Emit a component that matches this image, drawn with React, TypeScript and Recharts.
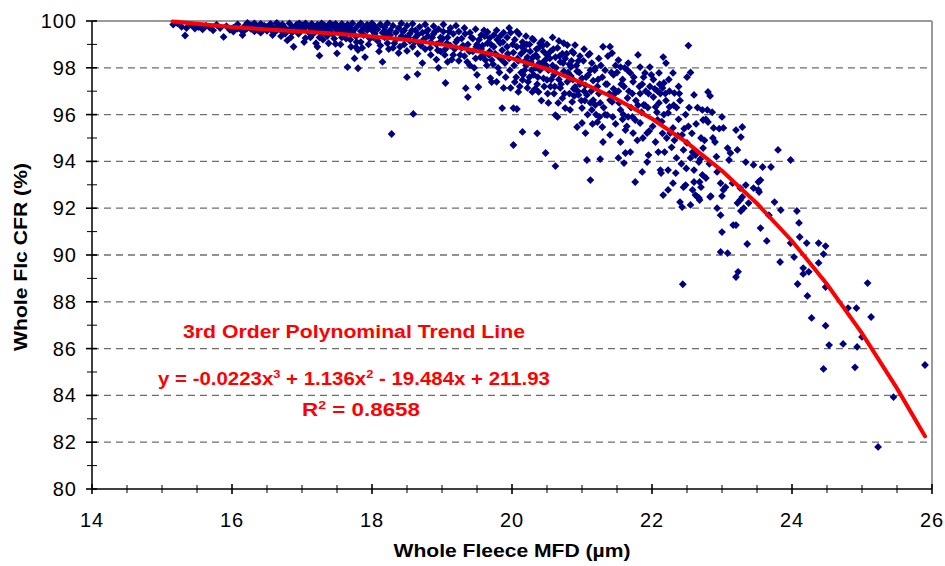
import React from "react";
import {
  ScatterChart,
  Scatter,
  XAxis,
  YAxis,
  CartesianGrid,
  ReferenceLine,
} from "recharts";

// [MFD (µm), CFR (%)], grouped by fibre diameter
const band15: [number, number][] = [
  [15.16, 99.85], [15.22, 99.9], [15.28, 99.75], [15.33, 99.38], [15.35, 99.7],
  [15.42, 99.82], [15.47, 99.68], [15.52, 99.74], [15.58, 99.64], [15.63, 99.8],
  [15.68, 99.72], [15.73, 99.6], [15.78, 99.84], [15.83, 99.7], [15.88, 99.32],
  [15.92, 99.78], [15.97, 99.62],
];

const band16: [number, number][] = [
  [16.02, 99.72], [16.02, 99.55], [16.08, 99.86], [16.08, 99.68], [16.13, 99.62],
  [16.15, 99.4], [16.18, 99.78], [16.18, 99.6], [16.22, 99.92], [16.22, 99.7],
  [16.27, 99.66], [16.27, 99.82], [16.32, 99.56], [16.32, 99.9], [16.36, 99.74],
  [16.36, 99.62], [16.41, 99.88], [16.41, 99.5], [16.46, 99.66], [16.46, 99.8],
  [16.5, 99.76], [16.5, 99.58], [16.55, 99.88], [16.55, 99.64], [16.6, 99.72],
  [16.6, 99.5], [16.64, 99.92], [16.64, 99.6], [16.68, 99.78], [16.68, 99.66],
  [16.72, 99.55], [16.72, 99.86], [16.76, 99.7], [16.76, 99.46], [16.79, 99.17],
  [16.82, 99.9], [16.82, 99.62], [16.86, 99.74], [16.86, 99.52], [16.88, 98.9],
  [16.92, 99.84], [16.92, 99.6], [16.96, 99.7], [16.96, 99.9],
  [16.58, 99.4], [16.7, 99.35], [16.84, 99.3], [16.95, 99.45],
];

const band17: [number, number][] = [
  [17.0, 99.62], [17.0, 99.82], [17.05, 99.27], [17.05, 99.72], [17.05, 99.9],
  [17.1, 99.5], [17.1, 99.78], [17.14, 99.88], [17.14, 99.64], [17.14, 99.4],
  [17.18, 99.7], [17.18, 99.52], [17.22, 98.9], [17.22, 99.84], [17.22, 99.6],
  [17.25, 98.52], [17.25, 99.3], [17.28, 99.9], [17.28, 99.72], [17.28, 99.46],
  [17.32, 99.62], [17.32, 99.82], [17.36, 99.36], [17.36, 99.76], [17.4, 99.9],
  [17.4, 99.56], [17.4, 99.7], [17.44, 99.82], [17.44, 99.44], [17.48, 99.02],
  [17.48, 99.66], [17.48, 99.88], [17.5, 98.62], [17.53, 99.76], [17.53, 99.5],
  [17.57, 99.88], [17.57, 99.62], [17.57, 99.3], [17.61, 99.72], [17.61, 99.45],
  [17.65, 98.03], [17.65, 99.84], [17.65, 99.58], [17.69, 99.2], [17.69, 99.7],
  [17.72, 99.9], [17.72, 99.5], [17.75, 98.4], [17.75, 99.64], [17.77, 98.88],
  [17.77, 99.34], [17.8, 97.98], [17.8, 98.76], [17.8, 99.8], [17.84, 99.56],
  [17.84, 99.9], [17.84, 99.1], [17.88, 99.7], [17.88, 99.4], [17.9, 98.46],
  [17.93, 99.84], [17.93, 99.6], [17.97, 99.25], [17.97, 99.74],
  [17.03, 99.1], [17.12, 99.3], [17.2, 99.05], [17.3, 99.2], [17.38, 99.05],
  [17.46, 99.25], [17.55, 99.0], [17.63, 99.25], [17.7, 98.9], [17.78, 99.1],
  [17.86, 98.85], [17.95, 99.0],
];

const band18: [number, number][] = [
  [18.0, 99.9], [18.0, 99.6], [18.04, 99.45], [18.04, 99.78], [18.08, 99.15],
  [18.08, 99.65], [18.12, 99.86], [18.12, 98.95], [18.15, 98.25], [18.15, 99.5],
  [18.18, 99.72], [18.18, 99.3], [18.22, 99.9], [18.22, 99.05], [18.26, 99.6],
  [18.26, 99.4], [18.28, 95.17], [18.3, 98.85], [18.3, 99.8], [18.34, 99.5],
  [18.34, 99.2], [18.38, 98.63], [18.38, 99.7], [18.42, 99.9], [18.42, 99.35],
  [18.46, 99.0], [18.46, 99.6], [18.5, 97.6], [18.5, 98.72], [18.5, 99.8],
  [18.54, 99.45], [18.54, 99.15], [18.58, 99.88], [18.58, 98.9], [18.59, 96.03],
  [18.62, 99.6], [18.62, 99.3], [18.65, 97.73], [18.65, 98.6], [18.68, 99.75],
  [18.68, 99.05], [18.72, 98.2], [18.72, 99.5], [18.76, 99.85], [18.76, 98.8],
  [18.8, 99.35], [18.8, 99.62], [18.84, 98.55], [18.84, 99.1], [18.88, 99.78],
  [18.88, 99.45], [18.92, 98.35], [18.92, 99.0], [18.95, 98.0], [18.95, 99.65],
  [18.98, 99.3], [18.98, 98.7],
  [18.02, 99.3], [18.1, 98.7], [18.2, 99.5], [18.24, 98.8], [18.32, 99.05],
  [18.4, 98.9], [18.44, 99.55], [18.48, 99.3], [18.52, 99.3], [18.57, 99.6],
  [18.61, 99.1], [18.66, 99.42], [18.7, 98.95], [18.74, 99.22], [18.78, 99.55],
  [18.83, 98.85], [18.86, 99.3], [18.9, 99.55], [18.94, 98.75], [18.97, 99.1],
];

const band19: [number, number][] = [
  [19.02, 99.55], [19.02, 99.85], [19.05, 97.35], [19.05, 98.8], [19.08, 98.25],
  [19.08, 99.3], [19.12, 99.7], [19.12, 98.95], [19.16, 98.55], [19.16, 99.45],
  [19.2, 99.1], [19.2, 99.8], [19.24, 98.3], [19.24, 99.55], [19.28, 98.85],
  [19.28, 99.25], [19.32, 99.7], [19.32, 98.5], [19.34, 97.13], [19.37, 96.75],
  [19.37, 99.0], [19.4, 99.5], [19.4, 98.1], [19.44, 98.7], [19.44, 99.25],
  [19.48, 98.4], [19.48, 99.65], [19.5, 97.7], [19.5, 99.0], [19.52, 97.18],
  [19.56, 99.4], [19.56, 98.8], [19.6, 99.6], [19.6, 98.55], [19.62, 98.33],
  [19.65, 99.53], [19.65, 99.05], [19.68, 99.27], [19.68, 98.7], [19.69, 97.56],
  [19.71, 97.39], [19.71, 98.33], [19.74, 99.4], [19.74, 98.9], [19.78, 99.6],
  [19.78, 97.4], [19.8, 98.0], [19.8, 98.5], [19.83, 99.06], [19.83, 99.35],
  [19.86, 96.28], [19.86, 98.75], [19.88, 97.14], [19.88, 99.5], [19.9, 98.2],
  [19.93, 99.3], [19.93, 98.9], [19.96, 99.7], [19.96, 98.4], [19.98, 97.14],
  [19.98, 99.5],
  [19.01, 99.25], [19.04, 98.55], [19.07, 99.05], [19.1, 99.55], [19.14, 98.35],
  [19.18, 98.8], [19.22, 99.2], [19.26, 98.55], [19.3, 98.95], [19.33, 99.45],
  [19.36, 98.25], [19.39, 98.7], [19.42, 99.3], [19.46, 98.0], [19.49, 98.9],
  [19.53, 99.2], [19.55, 98.45], [19.58, 98.95], [19.61, 99.35], [19.64, 98.1],
  [19.67, 98.55], [19.7, 99.0], [19.73, 98.15], [19.76, 98.6], [19.79, 99.2],
  [19.82, 97.8], [19.85, 98.35], [19.87, 99.1], [19.91, 97.6], [19.94, 98.6],
  [19.97, 97.9],
];

const band20: [number, number][] = [
  [20.02, 96.28], [20.02, 98.65], [20.02, 94.7], [20.04, 97.39], [20.04, 99.2],
  [20.07, 96.24], [20.07, 98.9], [20.07, 99.55], [20.09, 96.97], [20.09, 98.3],
  [20.1, 99.44], [20.13, 97.8], [20.13, 98.6], [20.15, 97.48], [20.15, 95.26],
  [20.15, 99.1], [20.18, 98.75], [20.18, 97.9], [20.2, 99.35], [20.2, 98.1],
  [20.22, 97.14], [20.22, 98.45], [20.25, 99.0], [20.25, 97.6], [20.27, 98.25],
  [20.29, 96.97], [20.29, 99.25], [20.31, 99.19], [20.31, 97.7], [20.34, 98.0],
  [20.34, 98.55], [20.36, 98.46], [20.36, 95.2], [20.36, 97.3], [20.38, 96.97],
  [20.38, 98.85], [20.4, 97.9], [20.4, 99.05], [20.43, 99.15], [20.43, 98.2],
  [20.45, 97.55], [20.45, 98.7], [20.48, 94.36], [20.48, 98.35], [20.5, 97.48],
  [20.5, 98.55], [20.5, 99.0], [20.52, 96.5], [20.52, 97.9], [20.55, 98.7],
  [20.55, 97.2], [20.58, 99.3], [20.58, 98.1], [20.6, 97.7], [20.6, 96.9],
  [20.62, 93.8], [20.62, 95.98], [20.62, 98.45], [20.65, 95.9], [20.65, 98.85],
  [20.67, 99.15], [20.67, 97.5], [20.69, 97.14], [20.69, 98.25], [20.72, 98.6],
  [20.72, 96.7], [20.74, 97.85], [20.74, 99.05], [20.76, 96.28], [20.76, 98.4],
  [20.79, 98.97], [20.79, 97.4], [20.82, 98.15], [20.82, 96.9], [20.84, 98.03],
  [20.84, 97.65], [20.86, 96.54], [20.86, 98.7], [20.88, 98.63], [20.88, 97.1],
  [20.9, 98.97], [20.9, 97.18], [20.93, 95.47], [20.93, 97.85], [20.95, 96.84],
  [20.95, 98.3], [20.97, 98.5], [20.97, 97.3],
  [20.01, 99.0], [20.03, 98.1], [20.06, 97.6], [20.08, 98.4], [20.11, 97.2],
  [20.14, 98.9], [20.16, 97.7], [20.19, 98.3], [20.21, 99.0], [20.23, 97.4],
  [20.26, 98.7], [20.28, 97.9], [20.3, 98.45], [20.33, 97.1], [20.35, 98.8],
  [20.37, 97.6], [20.39, 98.2], [20.42, 96.6], [20.44, 98.95], [20.46, 97.2],
  [20.49, 98.1], [20.51, 96.9], [20.54, 98.4], [20.56, 97.5], [20.59, 98.8],
  [20.61, 97.2], [20.63, 98.0], [20.66, 96.5], [20.68, 98.5], [20.7, 97.3],
  [20.73, 98.2], [20.75, 96.9], [20.78, 98.6], [20.8, 97.8], [20.83, 96.2],
  [20.85, 98.3], [20.87, 97.5], [20.89, 96.8], [20.92, 98.1], [20.94, 97.0],
  [20.96, 97.8], [20.99, 96.6],
];

const band21: [number, number][] = [
  [21.0, 96.28], [21.0, 95.64], [21.0, 97.55], [21.03, 98.8], [21.03, 97.0],
  [21.05, 95.21], [21.05, 97.25], [21.07, 96.84], [21.07, 94.06], [21.09, 98.55],
  [21.09, 97.7], [21.12, 93.2], [21.12, 97.9], [21.12, 96.5], [21.14, 96.2],
  [21.14, 98.2], [21.16, 96.62], [21.16, 97.45], [21.19, 96.41], [21.19, 98.0],
  [21.22, 95.68], [21.22, 97.2], [21.24, 98.4], [21.24, 96.9], [21.26, 94.1],
  [21.26, 96.5], [21.29, 95.47], [21.29, 97.6], [21.3, 98.9], [21.3, 94.83],
  [21.33, 97.9], [21.33, 96.0], [21.36, 95.98], [21.36, 97.3], [21.4, 98.9],
  [21.4, 95.13], [21.4, 96.62], [21.43, 96.54], [21.43, 98.63], [21.45, 97.7],
  [21.45, 97.1], [21.48, 95.6], [21.48, 98.1], [21.52, 94.15], [21.52, 98.33],
  [21.52, 97.0], [21.55, 94.83], [21.55, 96.2], [21.55, 98.03], [21.58, 95.8],
  [21.58, 97.5], [21.6, 93.93], [21.6, 97.2], [21.62, 95.34], [21.62, 94.36],
  [21.65, 96.71], [21.65, 97.9], [21.66, 95.9], [21.66, 98.2], [21.69, 94.4],
  [21.69, 97.78], [21.72, 95.9], [21.72, 96.9], [21.73, 95.21], [21.73, 97.4],
  [21.76, 93.12], [21.76, 95.77], [21.8, 98.55], [21.8, 96.4], [21.83, 95.64],
  [21.83, 98.03], [21.83, 96.9], [21.86, 93.55], [21.86, 97.3], [21.88, 96.41],
  [21.88, 97.6], [21.9, 97.78], [21.9, 96.4], [21.93, 93.97], [21.93, 95.21],
  [21.95, 94.27], [21.95, 96.9], [21.97, 98.03], [21.97, 97.2],
  [21.02, 98.3], [21.04, 96.6], [21.06, 97.6], [21.08, 96.0], [21.11, 98.6],
  [21.13, 97.0], [21.15, 95.6], [21.18, 97.9], [21.2, 96.0], [21.23, 97.5],
  [21.25, 95.9], [21.27, 98.1], [21.31, 96.3], [21.34, 97.3], [21.37, 98.5],
  [21.39, 96.9], [21.42, 97.8], [21.44, 95.9], [21.47, 96.9], [21.5, 97.8],
  [21.53, 96.5], [21.56, 97.3], [21.59, 96.0], [21.61, 98.0], [21.64, 95.5],
  [21.67, 97.0], [21.7, 96.3], [21.74, 97.6], [21.77, 96.6], [21.79, 94.9],
  [21.82, 97.2], [21.85, 96.1], [21.87, 95.0], [21.91, 97.0], [21.94, 96.3],
  [21.96, 95.3], [21.99, 97.7],
];

const band22: [number, number][] = [
  [22.02, 96.75], [22.02, 97.5], [22.05, 94.83], [22.05, 96.33], [22.08, 95.77],
  [22.08, 97.0], [22.1, 97.78], [22.1, 96.5], [22.12, 93.63], [22.12, 96.9],
  [22.13, 93.5], [22.15, 97.14], [22.15, 95.2], [22.16, 92.56], [22.16, 98.46],
  [22.17, 97.35], [22.17, 96.0], [22.18, 94.4], [22.2, 98.2], [22.2, 96.6],
  [22.23, 96.07], [22.23, 93.63], [22.23, 92.78], [22.25, 96.33], [22.25, 97.0],
  [22.26, 95.21], [22.3, 97.78], [22.3, 95.43], [22.3, 93.07], [22.32, 96.92],
  [22.32, 94.9], [22.35, 94.15], [22.35, 96.3], [22.38, 95.8], [22.38, 97.2],
  [22.4, 92.26], [22.4, 96.6], [22.43, 95.13], [22.43, 92.05], [22.44, 88.75],
  [22.45, 94.49], [22.45, 92.9], [22.48, 96.0], [22.48, 92.99], [22.5, 94.79],
  [22.5, 97.6], [22.52, 98.95], [22.52, 95.5], [22.55, 97.8], [22.55, 94.15],
  [22.55, 92.14], [22.58, 94.4], [22.58, 92.78], [22.6, 93.12], [22.6, 93.63],
  [22.6, 96.84], [22.62, 94.27], [22.62, 92.56], [22.65, 92.48], [22.65, 96.3],
  [22.67, 93.97], [22.67, 92.44], [22.68, 92.35], [22.68, 93.12], [22.7, 92.9],
  [22.7, 95.0], [22.72, 93.42], [22.72, 96.2], [22.73, 94.57], [22.73, 95.77],
  [22.77, 93.29], [22.77, 95.8], [22.79, 96.2], [22.8, 95.68], [22.8, 96.97],
  [22.83, 92.48], [22.83, 96.8], [22.84, 92.52], [22.86, 96.1], [22.88, 95.43],
  [22.9, 94.83], [22.93, 92.0], [22.93, 93.55], [22.98, 91.7], [22.98, 90.13],
  [22.98, 93.07],
  [22.01, 95.5], [22.04, 97.1], [22.07, 96.1], [22.09, 94.4], [22.11, 97.3],
  [22.14, 95.7], [22.19, 96.9], [22.21, 95.0], [22.24, 97.5], [22.28, 94.6],
  [22.31, 96.4], [22.34, 93.5], [22.37, 95.1], [22.39, 96.9], [22.42, 93.9],
  [22.46, 95.4], [22.49, 93.7], [22.53, 96.3], [22.57, 95.2], [22.63, 95.6],
  [22.69, 94.1], [22.75, 94.9], [22.82, 93.9], [22.87, 95.0], [22.92, 94.2],
  [22.96, 95.4],
];

const band23: [number, number][] = [
  [23.0, 95.9], [23.0, 90.98], [23.0, 92.52], [23.02, 95.43], [23.02, 92.78],
  [23.05, 92.9], [23.08, 94.57], [23.08, 90.08], [23.1, 94.06], [23.12, 94.36],
  [23.15, 93.07], [23.16, 91.28], [23.2, 95.34], [23.2, 91.28], [23.2, 89.06],
  [23.22, 94.49], [23.22, 92.22], [23.23, 89.28], [23.26, 92.86], [23.26, 92.35],
  [23.27, 95.04], [23.27, 91.88], [23.29, 95.47], [23.29, 92.48], [23.31, 92.0],
  [23.34, 93.97], [23.34, 92.99], [23.36, 90.47], [23.38, 92.22], [23.45, 93.85],
  [23.45, 92.86], [23.52, 93.12], [23.52, 92.78], [23.53, 92.69], [23.55, 93.2],
  [23.55, 91.15], [23.58, 93.76], [23.64, 90.6], [23.67, 91.7], [23.7, 93.76],
  [23.75, 92.26], [23.8, 94.49], [23.83, 89.7], [23.84, 91.92], [23.98, 90.51],
  [23.98, 94.06],
];

const band24: [number, number][] = [
  [24.03, 89.91], [24.07, 91.88], [24.08, 88.76], [24.1, 91.37], [24.11, 90.77],
  [24.16, 89.44], [24.16, 89.19], [24.21, 90.51], [24.22, 88.25], [24.24, 89.28],
  [24.28, 87.31], [24.38, 90.51], [24.38, 89.66], [24.45, 90.04], [24.45, 85.13],
  [24.48, 90.38], [24.48, 88.63], [24.48, 86.98], [24.53, 86.15], [24.73, 86.2],
  [24.8, 87.73], [24.9, 85.2], [24.92, 87.73], [24.93, 86.07], [25.0, 86.5],
  [25.08, 88.8], [25.13, 87.35], [25.23, 81.8], [25.45, 83.93], [25.9, 85.3],
];

// red 3rd order trend line
const trendLine: [number, number][] = [
  [15.15, 99.98], [15.5, 99.88], [16, 99.74], [16.5, 99.64], [17, 99.55],
  [17.5, 99.45], [18, 99.34], [18.5, 99.2], [19, 99.0], [19.5, 98.72],
  [20, 98.4], [20.5, 97.95], [21, 97.36], [21.5, 96.66], [22, 95.82],
  [22.5, 94.8], [23, 93.6], [23.5, 92.2], [24, 90.6], [24.5, 88.75],
  [25, 86.65], [25.5, 84.3], [25.9, 82.25],
];

const xTicks = [
  14, 14.5, 15, 15.5, 16, 16.5, 17, 17.5, 18, 18.5, 19, 19.5, 20, 20.5, 21,
  21.5, 22, 22.5, 23, 23.5, 24, 24.5, 25, 25.5, 26,
];
const yTicks = [
  80, 81, 82, 83, 84, 85, 86, 87, 88, 89, 90, 91, 92, 93, 94, 95, 96, 97, 98,
  99, 100,
];
const gridValues = [82, 84, 86, 88, 90, 92, 94, 96, 98];

const FONT = "'Liberation Sans', Arial, sans-serif";

const toRows = (pairs: [number, number][]) =>
  pairs.map(([mfd, cfr]) => ({ mfd, cfr }));

const fleeceData = toRows([
  ...band15,
  ...band16,
  ...band17,
  ...band18,
  ...band19,
  ...band20,
  ...band21,
  ...band22,
  ...band23,
  ...band24,
]);
const trendData = toRows(trendLine);

const Diamond = (props: any) => {
  const { cx, cy } = props;
  if (cx == null || cy == null) return <g />;
  const r = 3.9;
  return (
    <polygon
      points={`${cx},${cy - r} ${cx + r},${cy} ${cx},${cy + r} ${cx - r},${cy}`}
      fill="#000080"
    />
  );
};

const XTick = ({ x, y, payload }: any) => {
  const v = payload.value;
  const major = v % 2 === 0;
  return (
    <g>
      <line
        x1={x}
        x2={x}
        y1={y - (major ? 5 : 4)}
        y2={y + (major ? 5 : 4)}
        stroke="#000"
        strokeWidth={major ? 1.6 : 1}
      />
      {major && (
        <text
          x={x}
          y={y + 38}
          textAnchor="middle"
          fontFamily={FONT}
          fontSize={20}
          letterSpacing={1}
          fill="#000"
        >
          {v}
        </text>
      )}
    </g>
  );
};

const YTick = ({ x, y, payload }: any) => {
  const v = payload.value;
  const major = v % 2 === 0;
  return (
    <g>
      <line
        x1={x - (major ? 6 : 5)}
        x2={x + 5}
        y1={y}
        y2={y}
        stroke="#000"
        strokeWidth={major ? 1.6 : 1}
      />
      {major && (
        <text
          x={x - 15}
          y={y + 7}
          textAnchor="end"
          fontFamily={FONT}
          fontSize={20}
          letterSpacing={1}
          fill="#000"
        >
          {v}
        </text>
      )}
    </g>
  );
};

export default function App() {
  return (
    <div
      style={{
        position: "absolute",
        left: 0,
        top: 0,
        width: 945,
        height: 566,
        background: "#fff",
      }}
    >
      <ScatterChart
        width={945}
        height={566}
        margin={{ top: 21, right: 13, bottom: 17, left: 0 }}
      >
        <CartesianGrid
          vertical={false}
          horizontalValues={gridValues}
          stroke="#6e6e6e"
          strokeDasharray="7 5"
          strokeWidth={1.3}
        />
        <XAxis
          type="number"
          dataKey="mfd"
          domain={[14, 26]}
          ticks={xTicks}
          interval={0}
          tickSize={0}
          tickMargin={0}
          tickLine={false}
          axisLine={{ stroke: "#000", strokeWidth: 1.5 }}
          tick={<XTick />}
          height={60}
        />
        <YAxis
          type="number"
          dataKey="cfr"
          domain={[80, 100]}
          ticks={yTicks}
          interval={0}
          tickSize={0}
          tickMargin={0}
          tickLine={false}
          axisLine={{ stroke: "#000", strokeWidth: 1.5 }}
          tick={<YTick />}
          width={92}
        />
        <ReferenceLine y={100} stroke="#9a9a9a" strokeWidth={2} />
        <ReferenceLine x={26} stroke="#9a9a9a" strokeWidth={2} />
        <Scatter
          data={fleeceData}
          shape={<Diamond />}
          isAnimationActive={false}
        />
        <Scatter
          data={trendData}
          line={{ stroke: "#ff0000", strokeWidth: 4, strokeLinecap: "round" }}
          shape={() => <g />}
          isAnimationActive={false}
        />
      </ScatterChart>
      <svg
        width={945}
        height={566}
        style={{ position: "absolute", left: 0, top: 0, pointerEvents: "none" }}
      >
        <text
          transform="translate(27,257) rotate(-90)"
          textAnchor="middle"
          fontFamily={FONT}
          fontWeight="bold"
          fontSize={18}
          textLength={188}
          lengthAdjust="spacingAndGlyphs"
          fill="#000"
        >
          Whole Flc CFR (%)
        </text>
        <text
          x={512}
          y={557}
          textAnchor="middle"
          fontFamily={FONT}
          fontWeight="bold"
          fontSize={18}
          textLength={237}
          lengthAdjust="spacingAndGlyphs"
          fill="#000"
        >
          Whole Fleece MFD (µm)
        </text>
        <g fontFamily={FONT} fontWeight="bold" fill="#ff0000">
          <text
            x={354}
            y={338}
            textAnchor="middle"
            fontSize={17.5}
            textLength={342}
            lengthAdjust="spacingAndGlyphs"
          >
            3rd Order Polynominal Trend Line
          </text>
          <text
            x={354}
            y={385}
            textAnchor="middle"
            fontSize={17.5}
            textLength={392}
            lengthAdjust="spacingAndGlyphs"
          >
            y = -0.0223x
            <tspan dy={-7} fontSize={11}>
              3
            </tspan>
            <tspan dy={7}> + 1.136x</tspan>
            <tspan dy={-7} fontSize={11}>
              2
            </tspan>
            <tspan dy={7}> - 19.484x + 211.93</tspan>
          </text>
          <text
            x={361}
            y={416}
            textAnchor="middle"
            fontSize={17.5}
            textLength={118}
            lengthAdjust="spacingAndGlyphs"
          >
            R
            <tspan dy={-7} fontSize={11}>
              2
            </tspan>
            <tspan dy={7}> = 0.8658</tspan>
          </text>
        </g>
      </svg>
    </div>
  );
}
